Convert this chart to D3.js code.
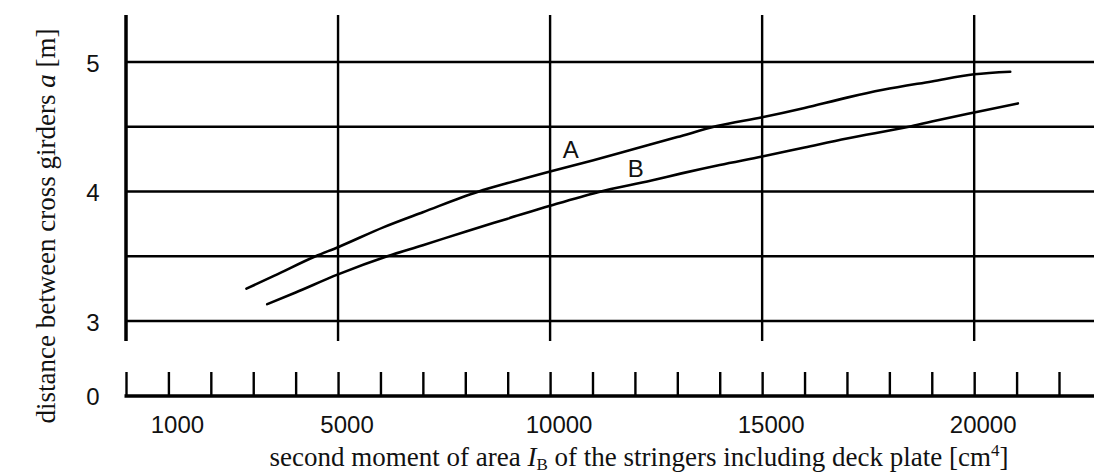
<!DOCTYPE html>
<html>
<head>
<meta charset="utf-8">
<script src="https://cdn.jsdelivr.net/npm/d3@7"></script>
<style>
  html, body { margin: 0; padding: 0; background: #fff; }
  svg { display: block; }
  .num { font-family: "Liberation Sans", Arial, sans-serif; font-size: 24px; fill: #111; }
  .title { font-family: "Liberation Serif", "Times New Roman", serif; font-size: 27px; fill: #111; }
</style>
</head>
<body>
<script>
// ---- data ----
const seriesA_x = [2840, 3500, 4470, 5000, 6080, 7000, 8320, 9000, 10000, 11000, 12000, 13000, 13930, 15000, 16000, 17000, 17850, 19000, 20000, 20850];
const seriesA_y = [3.25, 3.35, 3.50, 3.57, 3.725, 3.84, 4.00, 4.065, 4.155, 4.24, 4.33, 4.42, 4.505, 4.573, 4.645, 4.725, 4.785, 4.85, 4.905, 4.925];
const seriesB_x = [3330, 4000, 5000, 6160, 7000, 8000, 9000, 10000, 11130, 12390, 13100, 14000, 15000, 16000, 17000, 18460, 19000, 20000, 21030];
const seriesB_y = [3.13, 3.22, 3.36, 3.50, 3.585, 3.69, 3.79, 3.89, 3.995, 4.085, 4.14, 4.205, 4.27, 4.34, 4.41, 4.50, 4.54, 4.61, 4.68];
const seriesNames = ["A", "B"];
const xMinorTicks = [0, 1000, 2000, 3000, 4000, 5000, 6000, 7000, 8000, 9000, 10000, 11000, 12000, 13000, 14000, 15000, 16000, 17000, 18000, 19000, 20000, 21000, 22000];
const xTickLabels = [1000, 5000, 10000, 15000, 20000];
const xGrid = [5000, 10000, 15000, 20000];
const yGrid = [3, 3.5, 4, 4.5, 5];
const yTickLabels = [3, 4, 5];
const yZeroLabel = [0];

// ---- layout ----
const W = 1094, H = 474;
const svg = d3.select("body").append("svg").attr("width", W).attr("height", H);

const x = d3.scaleLinear().domain([0, 22000]).range([126, 1059]);
const y = d3.scaleLinear().domain([3, 5]).range([321, 62]);
const plotTop = 15, plotBottom = 341, rightEdge = W;
const baseY = 396;

// horizontal gridlines
svg.selectAll("line.hgrid").data(yGrid).join("line")
  .attr("class", "hgrid")
  .attr("x1", x(0)).attr("x2", rightEdge)
  .attr("y1", d => y(d)).attr("y2", d => y(d))
  .attr("stroke", "#000").attr("stroke-width", 2.4);

// vertical gridlines
svg.selectAll("line.vgrid").data(xGrid).join("line")
  .attr("class", "vgrid")
  .attr("x1", d => x(d)).attr("x2", d => x(d))
  .attr("y1", plotTop).attr("y2", plotBottom)
  .attr("stroke", "#000").attr("stroke-width", 2.4);

// left axis line
svg.append("line")
  .attr("x1", x(0)).attr("x2", x(0))
  .attr("y1", plotTop).attr("y2", plotBottom)
  .attr("stroke", "#000").attr("stroke-width", 3.5);

// y tick labels
svg.selectAll("text.ylab").data(yTickLabels).join("text")
  .attr("class", "num ylab")
  .attr("x", 93).attr("y", d => y(d) + 9.5)
  .attr("text-anchor", "middle")
  .text(d => d);

// bottom (broken) axis with ticks
const bottomAxis = d3.axisTop(x).tickValues(xMinorTicks).tickSize(24).tickFormat("");
const gB = svg.append("g").attr("transform", `translate(0,${baseY})`).call(bottomAxis);
gB.select(".domain").remove();
gB.selectAll(".tick line").attr("stroke", "#000").attr("stroke-width", 2.4);
svg.append("line")
  .attr("x1", x(0) - 1.5).attr("x2", rightEdge)
  .attr("y1", baseY).attr("y2", baseY)
  .attr("stroke", "#000").attr("stroke-width", 3.5);

// zero label
svg.selectAll("text.zlab").data(yZeroLabel).join("text")
  .attr("class", "num zlab")
  .attr("x", 93).attr("y", baseY + 8.5)
  .attr("text-anchor", "middle")
  .text(d => d);

// x tick labels
svg.selectAll("text.xlab").data(xTickLabels).join("text")
  .attr("class", "num xlab")
  .attr("x", d => x(d) + 9).attr("y", 433)
  .attr("text-anchor", "middle")
  .text(d => d);

// curves
const line = d3.line().x(d => x(d[0])).y(d => y(d[1])).curve(d3.curveMonotoneX);
const dataA = seriesA_x.map((v, i) => [v, seriesA_y[i]]);
const dataB = seriesB_x.map((v, i) => [v, seriesB_y[i]]);
[dataA, dataB].forEach(dat => {
  svg.append("path").datum(dat)
    .attr("d", line)
    .attr("fill", "none")
    .attr("stroke", "#000")
    .attr("stroke-width", 2.6)
    .attr("stroke-linecap", "round")
    .attr("stroke-linejoin", "round");
});

// curve labels
const curveLabels = [
  { name: seriesNames[0], xv: 10490, yv: 4.26 },
  { name: seriesNames[1], xv: 12020, yv: 4.11 }
];
svg.selectAll("text.clab").data(curveLabels).join("text")
  .attr("class", "num clab")
  .attr("font-size", 26)
  .attr("x", d => x(d.xv)).attr("y", d => y(d.yv))
  .attr("text-anchor", "middle")
  .text(d => d.name);

// y axis title
const yt = svg.append("text")
  .attr("class", "title")
  .attr("transform", "translate(55,226) rotate(-90)")
  .attr("text-anchor", "middle");
yt.append("tspan").text("distance between cross girders ");
yt.append("tspan").attr("font-style", "italic").text("a");
yt.append("tspan").text(" [m]");

// x axis title
const xt = svg.append("text")
  .attr("class", "title")
  .attr("x", 639).attr("y", 466)
  .attr("text-anchor", "middle");
xt.append("tspan").text("second moment of area ");
xt.append("tspan").attr("font-style", "italic").text("I");
xt.append("tspan").attr("font-size", 17).attr("dy", 4).text("B");
xt.append("tspan").attr("dy", -4).text(" of the stringers including deck plate [cm");
xt.append("tspan").attr("font-size", 17).attr("dy", -10).text("4");
xt.append("tspan").attr("dy", 10).text("]");
</script>
</body>
</html>
